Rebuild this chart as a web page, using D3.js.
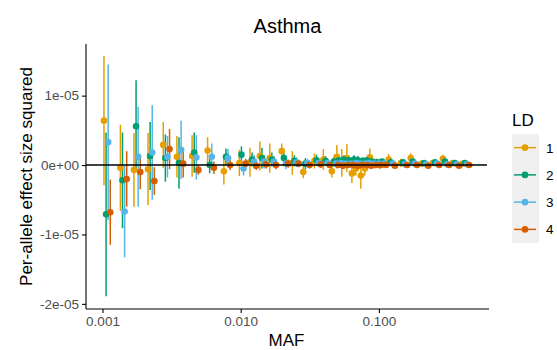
<!DOCTYPE html>
<html>
<head>
<meta charset="utf-8">
<script src="https://d3js.org/d3.v7.min.js"></script>
<style>
  body { margin: 0; background: #fff; }
  svg text { font-family: "Liberation Sans", Arial, sans-serif; }
  .axis path, .axis line { stroke: #000; stroke-width: 1.1; }
  .axis text { fill: #4d4d4d; font-size: 13.5px; }
</style>
</head>
<body>
<svg width="557" height="350"></svg>
<script>
// MAF bin positions
var maf = [0.00108, 0.00142, 0.00178, 0.00225, 0.0029, 0.00364, 0.00469, 0.00607, 0.00796,
  0.0103, 0.0123, 0.0145, 0.0171, 0.0209, 0.0249, 0.0299, 0.0360, 0.0418, 0.0481, 0.0523,
  0.0568, 0.0618, 0.0672, 0.0718, 0.0780, 0.0834, 0.0906, 0.0985, 0.107, 0.124, 0.152,
  0.179, 0.216, 0.259, 0.306, 0.361, 0.427];

var ldLevels = ["1", "2", "3", "4"];
var ldColors = ["#E69F00", "#009E73", "#56B4E9", "#D55E00"];

// estimates and half-widths, in units of 1e-05
var est1 = [0.64, -0.04, -0.07, -0.06, 0.29, 0.12, 0.13, 0.21, -0.09, 0.03, 0.04, 0.13, 0.1, 0.2, 0.03, -0.1, 0.06, 0.08, -0.09, 0.12, 0.03, 0.1, -0.12, -0.05, -0.15, -0.05, 0.11, 0.02, 0.0, 0.08, 0.03, 0.1, 0.02, 0.03, 0.09, 0.03, 0.02];
var err1 = [0.93, 0.62, 0.53, 0.52, 0.33, 0.3, 0.3, 0.19, 0.19, 0.19, 0.21, 0.21, 0.21, 0.11, 0.17, 0.09, 0.11, 0.15, 0.09, 0.17, 0.2, 0.2, 0.14, 0.1, 0.19, 0.1, 0.13, 0.07, 0.06, 0.08, 0.06, 0.07, 0.05, 0.04, 0.06, 0.04, 0.03];
var est2 = [-0.71, -0.22, 0.56, 0.13, 0.1, 0.03, 0.18, 0.0, 0.12, 0.15, 0.08, 0.1, 0.08, 0.1, 0.06, 0.02, 0.07, 0.06, 0.05, 0.07, 0.08, 0.07, 0.08, 0.07, 0.06, 0.07, 0.05, 0.04, 0.05, 0.04, 0.04, 0.05, 0.03, 0.04, 0.05, 0.03, 0.03];
var err2 = [1.18, 0.69, 0.66, 0.49, 0.34, 0.37, 0.29, 0.12, 0.12, 0.12, 0.1, 0.15, 0.1, 0.1, 0.08, 0.08, 0.08, 0.07, 0.07, 0.06, 0.06, 0.06, 0.06, 0.06, 0.05, 0.05, 0.05, 0.05, 0.04, 0.04, 0.04, 0.04, 0.03, 0.03, 0.03, 0.03, 0.03];
var est3 = [0.33, -0.67, 0.12, 0.18, 0.12, 0.22, 0.11, 0.12, 0.1, -0.05, 0.05, 0.05, 0.05, 0.02, 0.04, 0.03, 0.03, 0.03, 0.02, 0.03, 0.02, 0.02, 0.03, 0.02, 0.02, 0.03, 0.02, 0.02, 0.02, 0.02, 0.01, 0.02, 0.01, 0.02, 0.01, 0.01, 0.01];
var err3 = [1.12, 0.66, 0.72, 0.68, 0.3, 0.42, 0.32, 0.19, 0.13, 0.1, 0.1, 0.1, 0.08, 0.08, 0.07, 0.06, 0.06, 0.06, 0.05, 0.05, 0.05, 0.05, 0.05, 0.05, 0.04, 0.04, 0.04, 0.04, 0.04, 0.03, 0.03, 0.03, 0.03, 0.03, 0.02, 0.02, 0.02];
var est4 = [-0.68, -0.2, -0.1, -0.23, 0.23, 0.02, -0.07, -0.04, 0.0, 0.02, -0.01, 0.01, 0.0, 0.02, 0.02, 0.0, 0.01, 0.0, 0.0, -0.01, 0.0, 0.0, -0.01, 0.0, 0.0, -0.01, 0.0, 0.0, 0.0, -0.01, 0.0, 0.0, -0.01, 0.0, 0.0, -0.01, 0.0];
var err4 = [0.47, 0.4, 0.25, 0.2, 0.29, 0.2, 0.07, 0.09, 0.07, 0.07, 0.06, 0.06, 0.06, 0.06, 0.05, 0.05, 0.05, 0.04, 0.04, 0.04, 0.04, 0.04, 0.04, 0.03, 0.03, 0.03, 0.03, 0.03, 0.03, 0.03, 0.02, 0.02, 0.02, 0.02, 0.02, 0.02, 0.02];

var xTicks = [0.001, 0.01, 0.1];
var yTicks = [-2e-5, -1e-5, 0, 1e-5];
var yTickLabels = ["-2e-05", "-1e-05", "0e+00", "1e-05"];

var ests = [est1, est2, est3, est4], errs = [err1, err2, err3, err4];
var data = [];
ldLevels.forEach(function(ld, k) {
  maf.forEach(function(m, i) {
    data.push({ ld: ld, maf: m, est: ests[k][i] * 1e-5, err: errs[k][i] * 1e-5 });
  });
});

var svg = d3.select("svg");
var pLeft = 86, pRight = 487, pTop = 44, pBottom = 309;

var x = d3.scaleLog().domain([Math.pow(10, -3.1194), Math.pow(10, -0.2178)]).range([pLeft, pRight]);
var y = d3.scaleLinear().domain([-2.074e-5, 1.744e-5]).range([pBottom, pTop]);
var dodge = d3.scalePoint().domain(ldLevels).range([-3.15, 3.15]);
var color = d3.scaleOrdinal().domain(ldLevels).range(ldColors);

function px(d) { return x(d.maf) + dodge(d.ld); }

// error bars first, then points (as geom_pointrange does)
svg.append("g").selectAll("line")
  .data(data)
  .enter().append("line")
  .attr("x1", px).attr("x2", px)
  .attr("y1", function(d) { return y(d.est - d.err); })
  .attr("y2", function(d) { return y(d.est + d.err); })
  .attr("stroke", function(d) { return color(d.ld); })
  .attr("stroke-width", 1.5);

svg.append("g").selectAll("circle")
  .data(data)
  .enter().append("circle")
  .attr("cx", px)
  .attr("cy", function(d) { return y(d.est); })
  .attr("r", 3.3)
  .attr("fill", function(d) { return color(d.ld); });

// zero line
svg.append("line")
  .attr("x1", pLeft).attr("x2", pRight)
  .attr("y1", y(0)).attr("y2", y(0))
  .attr("stroke", "#000").attr("stroke-width", 1.6);

// axes
svg.append("g")
  .attr("class", "axis")
  .attr("transform", "translate(0," + pBottom + ")")
  .call(d3.axisBottom(x).tickValues(xTicks).tickFormat(d3.format(".3f")).tickSizeOuter(0).tickSize(4).tickPadding(3))
  .call(function(g) { g.select(".domain").attr("d", "M" + pLeft + ",0H" + (pRight + 2)); });

svg.append("g")
  .attr("class", "axis")
  .attr("transform", "translate(" + pLeft + ",0)")
  .call(d3.axisLeft(y).tickValues(yTicks).tickFormat(function(d, i) { return yTickLabels[i]; }).tickSizeOuter(0).tickSize(4).tickPadding(3))
  .call(function(g) { g.select(".domain").attr("d", "M0," + pTop + "V" + pBottom); });

// titles
svg.append("text")
  .attr("x", (pLeft + pRight) / 2 + 1).attr("y", 33)
  .attr("text-anchor", "middle").attr("font-size", 20)
  .text("Asthma");

svg.append("text")
  .attr("x", (pLeft + pRight) / 2).attr("y", 346)
  .attr("text-anchor", "middle").attr("font-size", 17)
  .text("MAF");

svg.append("text")
  .attr("transform", "translate(32," + (pTop + pBottom) / 2 + ") rotate(-90)")
  .attr("text-anchor", "middle").attr("font-size", 17)
  .text("Per-allele effect size squared");

// legend
var lg = svg.append("g").attr("transform", "translate(512,0)");
lg.append("text").attr("x", 0).attr("y", 126).attr("font-size", 17).text("LD");
var keyY = d3.scaleBand().domain(ldLevels).range([134, 243]);
lg.append("rect").attr("x", 0).attr("y", 134).attr("width", 27).attr("height", 109).attr("fill", "#f0f0f0");
var keys = lg.selectAll(".key").data(ldLevels).enter().append("g")
  .attr("transform", function(d) { return "translate(0," + (keyY(d) + keyY.bandwidth() / 2) + ")"; });
keys.append("line").attr("x1", 2).attr("x2", 24)
  .attr("stroke", function(d) { return color(d); }).attr("stroke-width", 1.5);
keys.append("circle").attr("cx", 13).attr("r", 3.3).attr("fill", function(d) { return color(d); });
keys.append("text").attr("x", 34).attr("y", 5).attr("font-size", 13.5).attr("fill", "#000").text(function(d) { return d; });
</script>
</body>
</html>
